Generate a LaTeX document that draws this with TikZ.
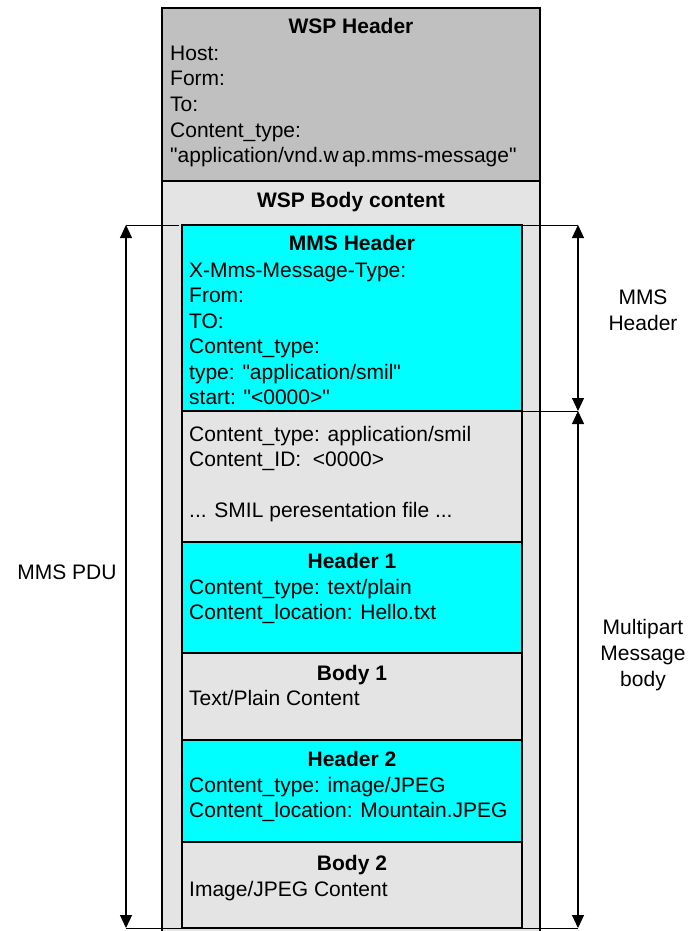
\documentclass[tikz,border=0pt]{standalone}
\usepackage{fontspec}
\setmainfont{Liberation Sans}[Ligatures=TeXOff]
\usetikzlibrary{arrows.meta}
\definecolor{hdrgray}{RGB}{192,192,192}
\definecolor{bodygray}{RGB}{228,228,228}
\definecolor{mmscyan}{RGB}{0,255,255}
\begin{document}
\begin{tikzpicture}[x=1pt,y=-1pt,
  font=\fontsize{21}{25.5}\selectfont,
  sec/.style={draw=black, line width=1.6pt, inner sep=0pt, outer sep=0pt, anchor=north west, minimum width=340pt},
  txt/.style={anchor=base west, inner sep=0pt},
  ttl/.style={anchor=base, inner sep=0pt, font=\fontsize{21}{25.5}\selectfont\bfseries},
  side/.style={anchor=base, inner sep=0pt},
  ext/.style={draw=black, line width=1pt},
  dimline/.style={draw=black, line width=1.2pt, {Triangle[length=13pt,width=12pt]}-{Triangle[length=13pt,width=12pt]}}
]
\useasboundingbox[fill=white] (0,0) rectangle (690,931);

% outer WSP frame
\fill[bodygray] (162,181) rectangle (540,931);
\node[draw=black, line width=1.8pt, inner sep=0pt, outer sep=0pt, anchor=north west, fill=hdrgray,
      minimum width=378pt, minimum height=173pt] (wsph) at (162,8) {};
\draw[line width=1.8pt] (162,931) -- (162,181) -- (540,181) -- (540,931);

% inner MMS sections
\node[sec, fill=mmscyan,  minimum height=186pt] (mmsh) at (182,225) {};
\node[sec, fill=bodygray, minimum height=131pt] (smil) at (182,411) {};
\node[sec, fill=mmscyan,  minimum height=111pt] (hdra) at (182,542) {};
\node[sec, fill=bodygray, minimum height=87pt]  (bdya) at (182,653) {};
\node[sec, fill=mmscyan,  minimum height=102pt] (hdrb) at (182,740) {};
\node[sec, fill=bodygray, minimum height=86pt]  (bdyb) at (182,842) {};

% WSP header text
\node[ttl] (wspt) at (351,34) {WSP Header};
\node[txt] (wl1) at (170,60.5) {Host:};
\node[txt] (wl2) at (170,86) {Form:};
\node[txt] (wl3) at (170,111.5) {To:};
\node[txt] (wl4) at (170,137) {Content\_type:};
\node[txt] (wl5) at (170,162.5) {"application/vnd.w\,ap.mms-message"};
\node[ttl] (wspb) at (351,207) {WSP Body content};

% MMS header text
\node[ttl] (mmst) at (352,250) {MMS Header};
\node[txt] (ml1) at (189,277) {X-Mms-Message-Type:};
\node[txt] (ml2) at (189,302.5) {From:};
\node[txt] (ml3) at (189,328) {TO:};
\node[txt] (ml4) at (189,353.5) {Content\_type:};
\node[txt] (ml5) at (189,379) {type: "application/smil"};
\node[txt] (ml6) at (189,404) {start: "<0000>"};

% SMIL part
\node[txt] (sl1) at (189,441) {Content\_type: application/smil};
\node[txt] (sl2) at (189,466.5) {Content\_ID:\ \ <0000>};
\node[txt] (sl3) at (189,517.5) {... SMIL peresentation file ...};

% Header 1 / Body 1
\node[ttl] (h1t) at (352,568) {Header 1};
\node[txt] (h1a) at (189,594) {Content\_type: text/plain};
\node[txt] (h1b) at (189,619.5) {Content\_location: Hello.txt};
\node[ttl] (b1t) at (352,680) {Body 1};
\node[txt] (b1a) at (189,705.5) {Text/Plain Content};

% Header 2 / Body 2
\node[ttl] (h2t) at (352,766) {Header 2};
\node[txt] (h2a) at (189,792) {Content\_type: image/JPEG};
\node[txt] (h2b) at (189,817.5) {Content\_location: Mountain.JPEG};
\node[ttl] (b2t) at (352,870) {Body 2};
\node[txt] (b2a) at (189,896) {Image/JPEG Content};

% dimension coordinates
\coordinate (pduT) at (126,225);
\coordinate (pduB) at (126,928);
\coordinate (rT) at (578,225);
\coordinate (rM) at (578,411);
\coordinate (rB) at (578,928);

% extension lines
\draw[ext, shorten >=3pt] (pduT) -- (mmsh.north west);
\draw[ext] (mmsh.north east) -- (rT);
\draw[ext] (mmsh.south east) -- (rM);
\draw[ext] (pduB) -- (rB);

% dimension arrows
\draw[dimline] (pduT) -- (pduB);
\draw[dimline] (rT) -- (rM);
\draw[dimline] (rM) -- (rB);

% side labels
\node[side] (pdu) at (67,579) {MMS PDU};
\node[side] (rh1) at (643,304) {MMS};
\node[side] (rh2) at (643,330) {Header};
\node[side] (rm1) at (643,634) {Multipart};
\node[side] (rm2) at (643,660) {Message};
\node[side] (rm3) at (643,686) {body};
\end{tikzpicture}
\end{document}
